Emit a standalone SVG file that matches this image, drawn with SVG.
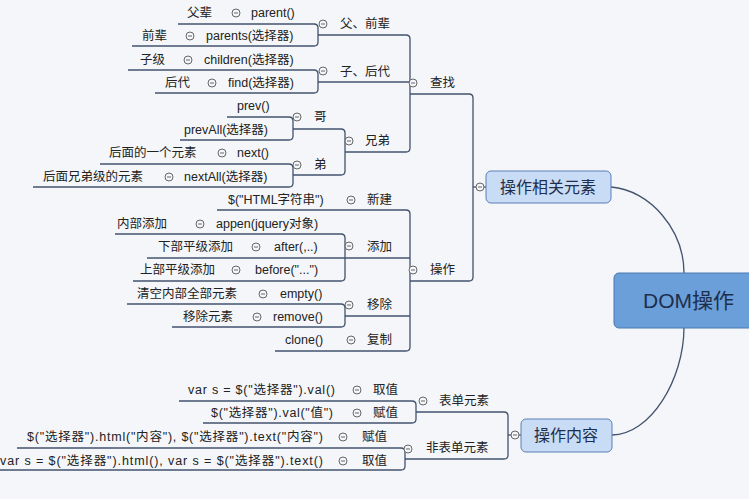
<svg xmlns="http://www.w3.org/2000/svg" xmlns:xlink="http://www.w3.org/1999/xlink" width="749" height="499" viewBox="0 0 749 499">
<style>
.t{font-family:"Liberation Sans","Noto Sans CJK SC",sans-serif;font-size:12.5px;fill:#222;dominant-baseline:central}
.b{font-family:"Liberation Sans","Noto Sans CJK SC",sans-serif;font-size:16px;fill:#1d2f4d;dominant-baseline:central;text-anchor:middle}
.l{fill:none;stroke:#43536e;stroke-width:1.3}
.box{fill:#c9dcf5;stroke:#5a7fb5;stroke-width:1}
</style>
<defs>
<g id="c"><circle r="4" fill="#f4f6f9" stroke="#666" stroke-width="1"/><line x1="-2" x2="2" stroke="#666" stroke-width="1"/></g>
</defs>
<rect width="749" height="499" fill="#f4f6f9"/>
<g id="connectors" class="l">
<path d="M178 24 H314 Q318 24 318 28 V42 Q318 46 314 46 H132"/>
<path d="M128 70 H314 Q318 70 318 74 V89 Q318 93 314 93 H155"/>
<path d="M318 35 H406 Q410 35 410 39 V148 Q410 152 406 152 H345"/>
<path d="M318 82 H410"/>
<path d="M227 117 H289 Q293 117 293 121 V136 Q293 140 289 140 H180"/>
<path d="M100 164 H289 Q293 164 293 168 V183 Q293 187 289 187 H33"/>
<path d="M293 129 H341 Q345 129 345 133 V171 Q345 175 341 175 H293"/>
<path d="M410 94 H469 Q473 94 473 98 V277 Q473 281 469 281 H410"/>
<path d="M473 187 H486"/>
<path d="M115 234 H341 Q345 234 345 238 V277 Q345 281 341 281 H133"/>
<path d="M147 258 H410"/>
<path d="M127 304 H341 Q345 304 345 308 V323 Q345 327 341 327 H172"/>
<path d="M217 210 H406 Q410 210 410 214 V347 Q410 351 406 351 H275"/>
<path d="M345 316 H410"/>
<path d="M179 401 H412 Q416 401 416 405 V419 Q416 423 412 423 H203"/>
<path d="M17 448 H401 Q405 448 405 452 V466 Q405 470 401 470 H0"/>
<path d="M416 412 H504 Q508 412 508 416 V455 Q508 459 504 459 H405"/>
<path d="M508 435 H521"/>
<path d="M611 187 C650 190 684 230 684 273"/>
<path d="M612 435 C650 435 684 380 684 327"/>
</g>
<g id="dom"><rect x="614" y="273" width="160" height="55" rx="5" fill="#6b9fd9" stroke="#4a78b0"/><text class="b" x="643" y="300" style="text-anchor:start;font-size:21px">DOM操作</text></g>
<g id="n-xg"><rect class="box" x="486" y="171" width="125" height="32" rx="5"/><text class="b" x="548" y="187">操作相关元素</text><use href="#c" x="480" y="187"/></g>
<g id="n-nr"><rect class="box" x="521" y="419" width="91" height="33" rx="5"/><text class="b" x="566" y="435">操作内容</text><use href="#c" x="515" y="435"/></g>
<g id="n-cz"><use href="#c" x="413" y="83"/><text class="t" x="430" y="83">查找</text></g>
<g id="n-fq"><use href="#c" x="323" y="24"/><text class="t" x="340" y="24">父、前辈</text></g>
<g id="n-parent"><text class="t" x="187" y="13">父辈</text><use href="#c" x="236" y="13"/><text class="t" x="251" y="13">parent()</text></g>
<g id="n-parents"><text class="t" x="142" y="36">前辈</text><use href="#c" x="190" y="36"/><text class="t" x="206" y="36">parents(选择器)</text></g>
<g id="n-zh"><use href="#c" x="323" y="71"/><text class="t" x="340" y="72">子、后代</text></g>
<g id="n-children"><text class="t" x="140" y="60">子级</text><use href="#c" x="188" y="60"/><text class="t" x="204" y="60">children(选择器)</text></g>
<g id="n-find"><text class="t" x="165" y="83">后代</text><use href="#c" x="212" y="83"/><text class="t" x="228" y="83">find(选择器)</text></g>
<g id="n-xd"><use href="#c" x="349" y="141"/><text class="t" x="365" y="141">兄弟</text></g>
<g id="n-ge"><use href="#c" x="297" y="117"/><text class="t" x="314" y="117">哥</text></g>
<g id="n-prev"><text class="t" x="237" y="106">prev()</text></g>
<g id="n-prevall"><text class="t" x="184" y="130">prevAll(选择器)</text></g>
<g id="n-di"><use href="#c" x="297" y="165"/><text class="t" x="314" y="165">弟</text></g>
<g id="n-next"><text class="t" x="109" y="153">后面的一个元素</text><use href="#c" x="222" y="153"/><text class="t" x="237" y="153">next()</text></g>
<g id="n-nextall"><text class="t" x="43" y="177">后面兄弟级的元素</text><use href="#c" x="169" y="177"/><text class="t" x="184" y="177">nextAll(选择器)</text></g>
<g id="n-op"><use href="#c" x="413" y="270"/><text class="t" x="430" y="270">操作</text></g>
<g id="n-new"><text class="t" x="228" y="200">$("HTML字符串")</text><use href="#c" x="351" y="200"/><text class="t" x="367" y="200">新建</text></g>
<g id="n-add"><use href="#c" x="349" y="246"/><text class="t" x="367" y="247">添加</text></g>
<g id="n-appen"><text class="t" x="117" y="224">内部添加</text><use href="#c" x="200" y="224"/><text class="t" x="216" y="224">appen(jquery对象)</text></g>
<g id="n-after"><text class="t" x="158" y="247">下部平级添加</text><use href="#c" x="256" y="247"/><text class="t" x="274" y="247">after(,..)</text></g>
<g id="n-before"><text class="t" x="140" y="270">上部平级添加</text><use href="#c" x="236" y="270"/><text class="t" x="255" y="270">before("...")</text></g>
<g id="n-rm"><use href="#c" x="349" y="305"/><text class="t" x="367" y="305">移除</text></g>
<g id="n-empty"><text class="t" x="137" y="294">清空内部全部元素</text><use href="#c" x="263" y="294"/><text class="t" x="280" y="294">empty()</text></g>
<g id="n-remove"><text class="t" x="183" y="317">移除元素</text><use href="#c" x="257" y="317"/><text class="t" x="273" y="317">remove()</text></g>
<g id="n-clone"><text class="t" x="285" y="340">clone()</text><use href="#c" x="351" y="340"/><text class="t" x="367" y="340">复制</text></g>
<g id="n-form"><use href="#c" x="423" y="401"/><text class="t" x="439" y="401">表单元素</text></g>
<g id="n-val1"><text class="t" x="188" y="390" textLength="147">var s = $("选择器").val()</text><use href="#c" x="357" y="390"/><text class="t" x="373" y="390">取值</text></g>
<g id="n-val2"><text class="t" x="211" y="413" textLength="122">$("选择器").val("值")</text><use href="#c" x="357" y="413"/><text class="t" x="373" y="413">赋值</text></g>
<g id="n-nonform"><use href="#c" x="408" y="449"/><text class="t" x="426" y="448">非表单元素</text></g>
<g id="n-html1"><text class="t" x="27" y="437" textLength="296">$("选择器").html("内容"), $("选择器").text("内容")</text><use href="#c" x="343" y="437"/><text class="t" x="362" y="437">赋值</text></g>
<g id="n-html2"><text class="t" x="0" y="461" textLength="323">var s = $("选择器").html(), var s = $("选择器").text()</text><use href="#c" x="343" y="461"/><text class="t" x="362" y="461">取值</text></g>
</svg>
